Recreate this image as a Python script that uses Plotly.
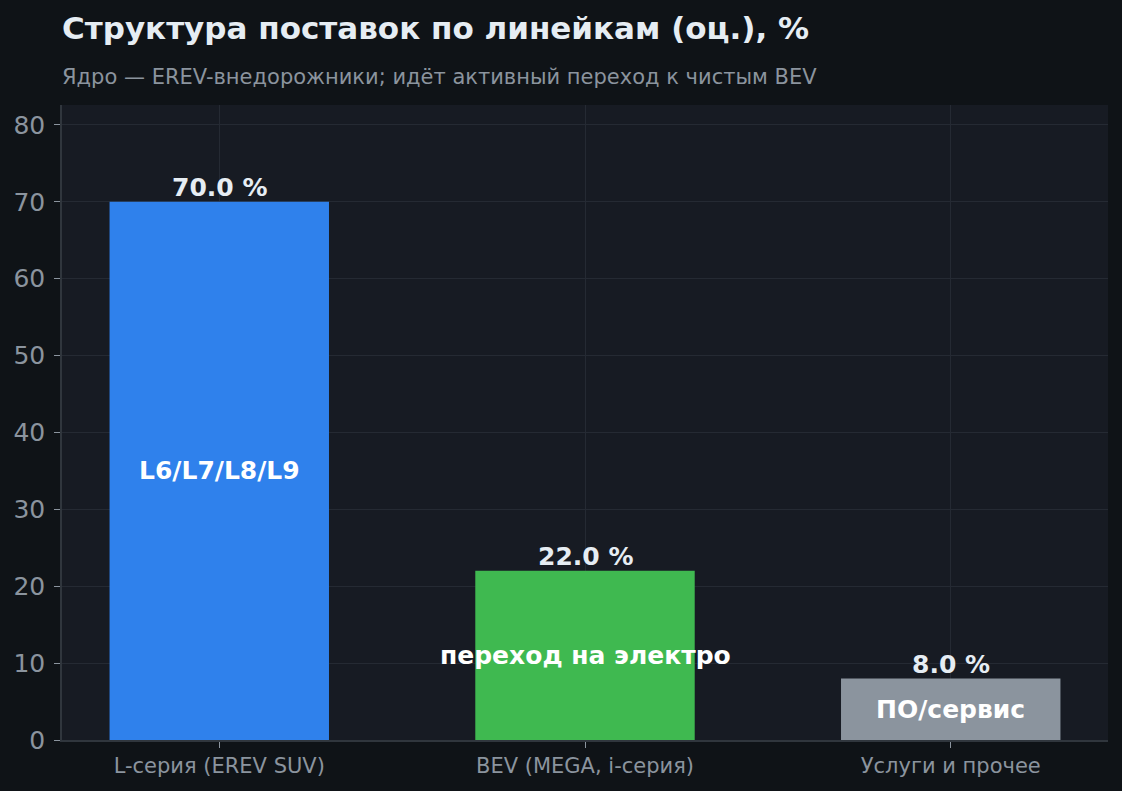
import plotly.graph_objects as go

# данные (оценка по картинке)
categories = ["L-серия (EREV SUV)", "BEV (MEGA, i-серия)", "Услуги и прочее"]
shares = [70.0, 22.0, 8.0]
inner_labels = ["L6/L7/L8/L9", "переход на электро", "ПО/сервис"]
bar_colors = ["#2f81ec", "#3fb950", "#8b949e"]

BG = "#0f1317"
PLOT_BG = "#171b23"
GRID = "#252a33"
MUTED = "#8b949e"
TEXT = "#e6edf3"
FONT = "DejaVu Sans"

fig = go.Figure()
fig.add_trace(go.Bar(
    x=list(range(len(categories))),
    y=shares,
    marker=dict(color=bar_colors, line=dict(width=0)),
    width=0.6,
    hoverinfo="skip",
))

# подписи над столбцами и внутри
for i, (v, lab) in enumerate(zip(shares, inner_labels)):
    fig.add_annotation(x=i, y=v, text=f"<b>{v:.1f} %</b>", showarrow=False,
                       yanchor="bottom", yshift=-2,
                       font=dict(family=FONT, size=25, color=TEXT))
    fig.add_annotation(x=i, y=v / 2, text=f"<b>{lab}</b>", showarrow=False,
                       yanchor="middle",
                       font=dict(family=FONT, size=25, color="#ffffff"))

fig.add_annotation(xref="paper", yref="paper", x=0, y=1.1213, xanchor="left",
                   yanchor="middle", showarrow=False, xshift=-2,
                   text="<b>Структура поставок по линейкам (оц.), %</b>",
                   font=dict(family=FONT, size=31, color=TEXT))
fig.add_annotation(xref="paper", yref="paper", x=0, y=1.0441, xanchor="left",
                   yanchor="middle", showarrow=False, xshift=-2,
                   text="Ядро — EREV-внедорожники; идёт активный переход к чистым BEV",
                   font=dict(family=FONT, size=21, color=MUTED))

fig.update_layout(
    width=1122, height=791,
    margin=dict(l=62, r=14, t=105, b=51),
    paper_bgcolor=BG, plot_bgcolor=PLOT_BG,
    showlegend=False,
    font=dict(family=FONT, color=MUTED),
)
fig.update_xaxes(
    range=[-0.43, 2.43],
    tickmode="array", tickvals=list(range(len(categories))), ticktext=categories,
    tickfont=dict(family=FONT, size=21, color=MUTED),
    ticks="outside", ticklen=6, tickcolor=MUTED,
    showgrid=True, gridcolor=GRID, gridwidth=1,
    showline=True, linecolor="#30363d", linewidth=1.5,
    zeroline=False,
)
fig.update_yaxes(
    range=[0, 82.6],
    tickmode="array", tickvals=[0, 10, 20, 30, 40, 50, 60, 70, 80],
    tickfont=dict(family=FONT, size=25, color=MUTED),
    ticks="outside", ticklen=6, tickcolor=MUTED, ticklabelstandoff=4,
    showgrid=True, gridcolor=GRID, gridwidth=1,
    showline=True, linecolor="#30363d", linewidth=1.5,
    zeroline=False,
)

fig.write_html("out.html", config={"displayModeBar": False},
               post_script="document.body.style.margin='0';")
